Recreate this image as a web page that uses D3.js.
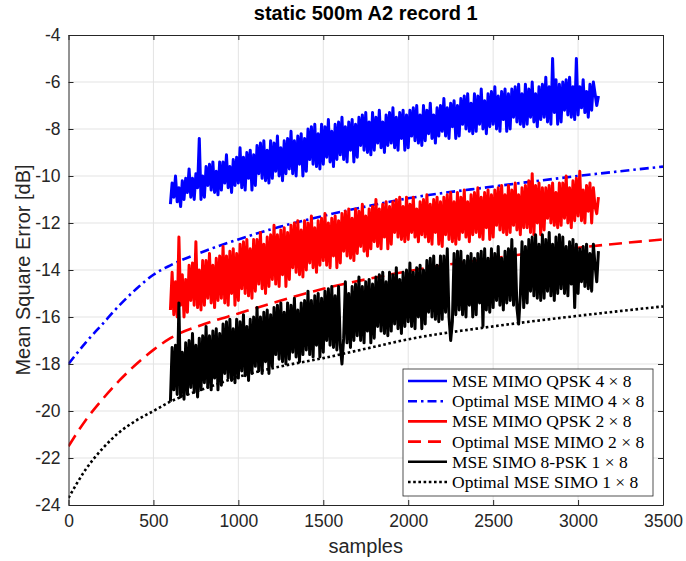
<!DOCTYPE html>
<html>
<head>
<meta charset="utf-8">
<script src="https://cdn.jsdelivr.net/npm/d3@7"></script>
<style>
  body { margin: 0; background: #fff; }
  svg { display: block; }
</style>
</head>
<body>
<div id="container"></div>
<script>
// ---- data ----
var xTicks = [0, 500, 1000, 1500, 2000, 2500, 3000, 3500];
var yTicks = [-24, -22, -20, -18, -16, -14, -12, -10, -8, -6, -4];

// noisy curves: one value every 10 samples, from 600 to 3120 (one row = 100 samples)
var mseStart = 600, mseStep = 10;
var mseQpsk4 = [
  -11.2, -10.3, -10.9, -10.0, -11.1, -10.5, -11.3, -10.2, -11.0, -10.1,
  -10.7, -9.7, -10.9, -10.1, -11.0, -9.9, -10.5, -8.4, -11.0, -10.0,
  -10.9, -9.6, -10.4, -9.5, -10.6, -9.4, -10.7, -9.8, -10.8, -9.4,
  -10.6, -9.4, -10.3, -9.1, -10.5, -9.6, -10.7, -9.3, -10.4, -9.2,
  -10.3, -8.8, -10.5, -9.2, -10.6, -9.0, -10.1, -8.9, -10.6, -9.1,
  -10.4, -8.7, -9.9, -8.6, -10.1, -8.5, -10.2, -8.9, -10.3, -8.5,
  -10.1, -8.6, -9.8, -8.3, -10.0, -8.8, -10.2, -8.5, -9.9, -8.4,
  -9.7, -8.1, -9.9, -8.5, -10.0, -8.3, -9.5, -8.2, -10.0, -8.4,
  -9.8, -8.0, -9.3, -7.9, -9.5, -7.8, -9.6, -8.2, -9.7, -7.8,
  -9.5, -7.9, -9.2, -7.6, -9.4, -8.1, -9.6, -7.8, -9.3, -7.7,
  -9.1, -7.5, -9.3, -7.9, -9.4, -7.7, -8.9, -7.6, -9.4, -7.8,
  -9.2, -7.5, -8.7, -7.4, -8.9, -7.3, -9.0, -7.7, -9.1, -7.3,
  -8.9, -7.5, -8.6, -7.2, -8.8, -7.7, -9.0, -7.4, -8.7, -7.3,
  -8.6, -7.1, -8.8, -7.5, -8.9, -7.3, -8.4, -7.2, -8.9, -7.4,
  -8.8, -7.2, -8.3, -7.1, -8.5, -7.0, -8.6, -7.4, -8.7, -7.0,
  -8.5, -7.2, -8.2, -6.9, -8.4, -7.4, -8.6, -7.1, -8.3, -7.0,
  -8.1, -6.7, -8.3, -7.1, -8.4, -6.9, -7.9, -6.8, -8.4, -7.0,
  -8.3, -6.7, -7.8, -6.6, -8.0, -6.5, -8.1, -6.9, -8.2, -6.5,
  -8.1, -6.6, -7.8, -6.3, -8.0, -6.8, -8.2, -6.5, -7.9, -6.4,
  -7.8, -6.2, -8.0, -6.6, -8.1, -6.4, -7.6, -6.3, -8.1, -6.5,
  -8.0, -6.3, -7.5, -6.2, -7.7, -6.1, -7.8, -6.5, -7.9, -6.1,
  -7.8, -6.3, -7.5, -6.0, -7.7, -6.5, -7.9, -6.2, -7.6, -6.1,
  -7.5, -5.8, -7.7, -6.2, -7.8, -5.0, -7.3, -5.9, -7.8, -6.1,
  -7.7, -6.0, -7.2, -5.9, -7.4, -5.8, -7.5, -6.2, -7.6, -5.0,
  -7.4, -6.2, -7.1, -5.9, -7.3, -6.4, -7.5, -6.1, -7.2, -6.0,
  -6.5, -7.0, -6.6
];
var mseQpsk2 = [
  -15.7, -14.1, -15.9, -14.5, -16.0, -12.6, -15.5, -14.2, -16.0, -14.4,
  -15.8, -13.8, -15.3, -13.7, -15.5, -12.8, -15.6, -14.0, -15.7, -13.6,
  -15.5, -13.6, -15.2, -13.3, -15.4, -13.8, -15.6, -13.5, -15.3, -13.4,
  -15.2, -13.0, -15.4, -13.4, -15.5, -13.2, -15.0, -13.1, -15.5, -13.3,
  -15.3, -12.9, -14.8, -12.8, -15.0, -12.7, -15.1, -13.1, -15.2, -12.7,
  -14.9, -12.7, -14.6, -12.4, -14.8, -12.9, -15.0, -12.6, -14.7, -12.5,
  -14.4, -12.1, -14.6, -12.5, -14.7, -12.3, -14.2, -12.2, -14.7, -12.4,
  -14.4, -12.1, -13.9, -12.0, -14.1, -11.9, -14.2, -12.3, -14.3, -11.9,
  -14.0, -12.0, -13.7, -11.7, -13.9, -12.2, -14.1, -11.9, -13.8, -11.8,
  -13.6, -11.6, -13.8, -12.0, -13.9, -11.8, -13.4, -11.7, -13.9, -11.9,
  -13.7, -11.6, -13.2, -11.5, -13.4, -11.4, -13.5, -11.8, -13.6, -11.4,
  -13.3, -11.5, -13.0, -11.2, -13.2, -11.7, -13.4, -11.4, -13.1, -11.3,
  -12.8, -11.0, -13.0, -11.4, -13.1, -11.2, -12.6, -11.1, -13.1, -11.3,
  -12.9, -11.1, -12.4, -11.0, -12.6, -10.9, -12.7, -11.3, -12.8, -10.9,
  -12.7, -11.2, -12.4, -10.9, -12.6, -11.4, -12.8, -11.1, -12.5, -11.0,
  -12.6, -10.8, -12.8, -11.2, -12.9, -11.0, -12.4, -10.9, -12.9, -11.1,
  -13.0, -10.9, -12.5, -10.8, -12.7, -10.7, -12.8, -11.1, -12.9, -10.7,
  -12.7, -10.9, -12.4, -10.6, -12.6, -11.1, -12.8, -10.8, -12.5, -10.7,
  -12.4, -10.5, -12.6, -10.9, -12.7, -10.7, -12.2, -10.6, -12.7, -10.8,
  -12.6, -10.6, -12.1, -10.5, -12.3, -10.4, -12.4, -10.8, -12.5, -10.4,
  -12.4, -10.6, -12.1, -10.3, -12.3, -10.8, -12.5, -10.5, -12.2, -10.4,
  -12.2, -10.2, -12.4, -9.9, -12.5, -10.4, -12.0, -10.3, -12.5, -10.5,
  -12.3, -10.5, -11.8, -10.4, -12.0, -10.3, -12.1, -10.7, -12.2, -10.3,
  -12.1, -10.3, -11.8, -10.0, -12.0, -10.5, -12.2, -10.2, -11.9, -10.1,
  -11.7, -9.8, -11.9, -10.6, -12.0, -10.4, -11.5, -10.3, -12.0, -10.5,
  -11.3, -11.6, -10.9
];
var mseSimo = [
  -19.6, -17.3, -19.1, -17.2, -19.3, -15.4, -19.4, -17.5, -19.5, -17.1,
  -19.3, -17.0, -19.0, -16.7, -19.2, -17.2, -19.4, -16.9, -19.1, -16.8,
  -18.8, -16.4, -19.0, -16.8, -19.1, -16.6, -18.6, -16.5, -19.1, -16.7,
  -18.9, -16.3, -18.4, -16.2, -18.6, -16.1, -18.7, -16.5, -18.8, -16.1,
  -18.6, -16.2, -18.3, -15.9, -18.5, -16.4, -18.7, -16.1, -18.4, -16.0,
  -18.1, -15.6, -18.3, -16.0, -18.4, -15.8, -17.9, -15.7, -18.4, -15.9,
  -18.1, -15.6, -17.6, -15.5, -17.8, -15.4, -17.9, -15.8, -18.0, -15.4,
  -17.8, -15.5, -17.5, -15.2, -17.7, -15.7, -17.9, -15.4, -17.6, -15.3,
  -17.4, -14.9, -17.6, -15.3, -17.7, -15.1, -17.2, -15.0, -17.7, -15.2,
  -17.5, -14.9, -17.0, -14.8, -17.2, -14.7, -17.3, -15.1, -17.4, -14.7,
  -17.2, -18.0, -16.9, -14.5, -17.1, -15.0, -17.3, -14.7, -17.0, -14.6,
  -16.8, -14.3, -17.0, -14.7, -17.1, -14.5, -16.6, -14.4, -17.1, -14.6,
  -16.9, -14.3, -16.4, -14.2, -16.6, -14.1, -16.7, -14.5, -16.8, -14.1,
  -16.6, -14.2, -16.3, -13.9, -16.5, -14.4, -16.7, -14.1, -16.4, -14.0,
  -16.2, -13.7, -16.4, -14.1, -16.5, -13.9, -16.0, -13.8, -16.5, -14.0,
  -16.3, -13.6, -15.8, -13.5, -16.0, -13.4, -16.1, -13.8, -16.2, -13.4,
  -16.1, -13.4, -15.8, -13.1, -16.0, -17.0, -16.2, -13.3, -15.9, -13.2,
  -15.7, -13.2, -15.9, -13.6, -16.0, -13.4, -15.5, -13.3, -16.0, -13.5,
  -15.9, -13.3, -15.4, -13.2, -16.4, -13.1, -15.7, -13.5, -15.8, -13.1,
  -15.6, -13.3, -15.3, -13.0, -15.5, -13.5, -15.7, -13.2, -15.4, -13.1,
  -15.3, -12.7, -15.5, -13.1, -15.6, -16.3, -15.1, -12.8, -15.6, -13.0,
  -15.4, -12.7, -14.9, -12.6, -15.1, -12.5, -15.2, -12.9, -15.3, -12.5,
  -15.2, -12.7, -14.9, -12.4, -15.1, -12.9, -15.3, -12.6, -15.0, -12.5,
  -14.8, -12.6, -15.0, -13.0, -15.1, -12.8, -14.6, -12.7, -15.6, -12.9,
  -15.0, -13.1, -14.5, -13.0, -14.7, -12.9, -14.8, -13.3, -14.9, -12.9,
  -13.8, -14.5, -13.2
];

// optimal (smooth) curves
var optSamples = [0, 100, 200, 300, 400, 500, 600, 800, 1000, 1250, 1500, 1750, 2000, 2500, 3000, 3500];
var optMimo4 = [-18.0, -17.1, -16.3, -15.5, -14.8, -14.2, -13.8, -13.2, -12.7, -12.15, -11.7, -11.3, -10.95, -10.45, -10.0, -9.6];
var optMimo2 = [-21.5, -20.4, -19.5, -18.7, -18.0, -17.4, -16.9, -16.3, -15.85, -15.3, -14.8, -14.4, -14.05, -13.5, -13.05, -12.7];
var optSimo  = [-23.7, -22.5, -21.6, -20.9, -20.4, -20.0, -19.6, -19.05, -18.55, -18.1, -17.75, -17.35, -16.95, -16.4, -15.95, -15.55];

var legendLabels = [
  "MSE MIMO QPSK 4 \u00d7 8",
  "Optimal MSE MIMO 4 \u00d7 8",
  "MSE MIMO QPSK 2 \u00d7 8",
  "Optimal MSE MIMO 2 \u00d7 8",
  "MSE SIMO 8-PSK 1 \u00d7 8",
  "Optimal MSE SIMO 1 \u00d7 8"
];

// ---- layout ----
var w = 686, h = 561;
var margin = {left: 68.5, right: 23, top: 35, bottom: 56};
var pw = w - margin.left - margin.right;
var ph = h - margin.top - margin.bottom;
var axisColor = "#262626";
var sans = "'Liberation Sans', Arial, Helvetica, sans-serif";

var svg = d3.select("#container").append("svg")
  .attr("width", w).attr("height", h)
  .style("font-family", sans);

var x = d3.scaleLinear().domain([0, 3500]).range([0, pw]);
var y = d3.scaleLinear().domain([-24, -4]).range([ph, 0]);

var g = svg.append("g").attr("transform", "translate(" + margin.left + "," + margin.top + ")");

svg.append("defs").append("clipPath").attr("id", "clip")
  .append("rect").attr("width", pw).attr("height", ph);

// grid
g.append("g").selectAll("line").data(xTicks.slice(1, -1)).enter().append("line")
  .attr("x1", function(d) { return x(d); }).attr("x2", function(d) { return x(d); })
  .attr("y1", 0).attr("y2", ph)
  .attr("stroke", "#e3e3e3").attr("stroke-width", 1);
g.append("g").selectAll("line").data(yTicks.slice(1, -1)).enter().append("line")
  .attr("y1", function(d) { return y(d); }).attr("y2", function(d) { return y(d); })
  .attr("x1", 0).attr("x2", pw)
  .attr("stroke", "#e3e3e3").attr("stroke-width", 1);

// curves
var line = d3.line()
  .x(function(d) { return x(d[0]); })
  .y(function(d) { return y(d[1]); });

function noisy(vals) {
  return vals.map(function(v, i) { return [mseStart + i * mseStep, v]; });
}
function smooth(vals) {
  return vals.map(function(v, i) { return [optSamples[i], v]; });
}

var series = [
  {data: noisy(mseQpsk4), color: "#0000ff", dash: null, curve: d3.curveLinear},
  {data: smooth(optMimo4), color: "#0000ff", dash: "9,4,2.5,4", curve: d3.curveMonotoneX},
  {data: noisy(mseQpsk2), color: "#ff0000", dash: null, curve: d3.curveLinear},
  {data: smooth(optMimo2), color: "#ff0000", dash: "13,7", curve: d3.curveMonotoneX},
  {data: noisy(mseSimo), color: "#000000", dash: null, curve: d3.curveLinear},
  {data: smooth(optSimo), color: "#000000", dash: "2.6,2.6", curve: d3.curveMonotoneX}
];

var plot = g.append("g").attr("clip-path", "url(#clip)");
series.forEach(function(s) {
  plot.append("path")
    .datum(s.data)
    .attr("fill", "none")
    .attr("stroke", s.color)
    .attr("stroke-width", s.dash ? 2.6 : 3)
    .attr("stroke-linejoin", "round")
    .attr("stroke-dasharray", s.dash)
    .attr("d", line.curve(s.curve));
});

// axes (MATLAB style: ticks inward on all four sides)
var fmt = function(d) { return String(d); };
function styleAxis(sel) {
  sel.select(".domain").attr("stroke", axisColor);
  sel.selectAll(".tick line").attr("stroke", axisColor);
  sel.selectAll(".tick text").attr("fill", axisColor)
    .style("font-size", "17.5px").style("font-family", sans);
}
g.append("g").attr("transform", "translate(0," + ph + ")")
  .call(d3.axisBottom(x).tickValues(xTicks).tickFormat(fmt).tickSizeInner(-5).tickSizeOuter(0).tickPadding(10))
  .call(styleAxis);
g.append("g")
  .call(d3.axisTop(x).tickValues(xTicks).tickSizeInner(-5).tickSizeOuter(0).tickFormat(""))
  .call(styleAxis);
g.append("g")
  .call(d3.axisLeft(y).tickValues(yTicks).tickFormat(fmt).tickSizeInner(-5).tickSizeOuter(0).tickPadding(8))
  .call(styleAxis);
g.append("g").attr("transform", "translate(" + pw + ",0)")
  .call(d3.axisRight(y).tickValues(yTicks).tickSizeInner(-5).tickSizeOuter(0).tickFormat(""))
  .call(styleAxis);

// labels
svg.append("text")
  .attr("x", margin.left + pw / 2).attr("y", 20)
  .attr("text-anchor", "middle").attr("font-weight", "bold")
  .attr("fill", "#000").style("font-size", "20px")
  .text("static 500m A2 record 1");

svg.append("text")
  .attr("x", margin.left + pw / 2).attr("y", 553)
  .attr("text-anchor", "middle").attr("fill", axisColor)
  .style("font-size", "20px")
  .text("samples");

svg.append("text")
  .attr("transform", "translate(30," + (margin.top + ph / 2) + ") rotate(-90)")
  .attr("text-anchor", "middle").attr("fill", axisColor)
  .style("font-size", "20px")
  .text("Mean Square Error [dB]");

// legend
var lg = svg.append("g").attr("transform", "translate(403,369)");
lg.append("rect")
  .attr("width", 250).attr("height", 127)
  .attr("fill", "#fff").attr("stroke", axisColor).attr("stroke-width", 0.8);

var rows = lg.selectAll("g.row").data(series).enter().append("g")
  .attr("class", "row")
  .attr("transform", function(d, i) { return "translate(0," + (12 + i * 20.2) + ")"; });
rows.append("line")
  .attr("x1", 5).attr("x2", 44)
  .attr("stroke", function(d) { return d.color; })
  .attr("stroke-width", 2.6)
  .attr("stroke-dasharray", function(d) { return d.dash; });
rows.append("text")
  .attr("x", 49).attr("y", 6)
  .attr("fill", "#000")
  .style("font-family", "'Liberation Serif', 'Times New Roman', serif")
  .style("font-size", "17.5px")
  .text(function(d, i) { return legendLabels[i]; });
</script>
</body>
</html>
